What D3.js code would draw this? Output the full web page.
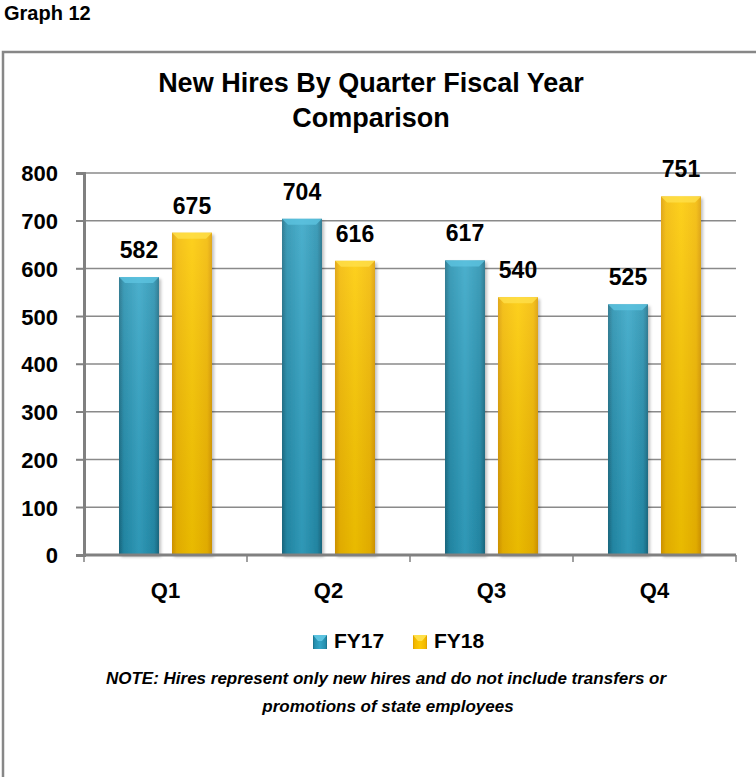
<!DOCTYPE html>
<html>
<head>
<meta charset="utf-8">
<script src="https://cdn.jsdelivr.net/npm/d3@7"></script>
<style>
  body { margin: 0; background: #ffffff; }
  text { font-family: "Liberation Sans", Arial, sans-serif; font-weight: bold; fill: #000; }
</style>
</head>
<body>
<script>
// chart data
var quarters = ["Q1", "Q2", "Q3", "Q4"];
var seriesNames = ["FY17", "FY18"];
var fy17 = [582, 704, 617, 525];
var fy18 = [675, 616, 540, 751];
var yTicks = [0, 100, 200, 300, 400, 500, 600, 700, 800];

window.onload = function(){

    var W = 756, H = 777;

    // plot area
    var left = 84, right = 736, top = 173, bottom = 555;

    var svg = d3.select("body")
        .append("svg")
        .attr("width", W)
        .attr("height", H);

    var defs = svg.append("defs");

    // bar gradients (cylinder-ish look)
    function makeGrad(id, stops) {
        var g = defs.append("linearGradient")
            .attr("id", id)
            .attr("x1", "0").attr("x2", "1").attr("y1", "0").attr("y2", "0");
        stops.forEach(function(s) {
            g.append("stop").attr("offset", s[0]).attr("stop-color", s[1]);
        });
    }
    makeGrad("g17", [["0%", "#1a6d86"], ["12%", "#258fae"], ["50%", "#33a5c6"], ["88%", "#258fae"], ["100%", "#1a6d86"]]);
    makeGrad("g18", [["0%", "#dc9c00"], ["12%", "#f3b900"], ["50%", "#fdca05"], ["88%", "#f3b900"], ["100%", "#dc9c00"]]);

    var shade = defs.append("linearGradient")
        .attr("id", "shade")
        .attr("x1", "0").attr("x2", "0").attr("y1", "0").attr("y2", "1");
    shade.append("stop").attr("offset", "0%").attr("stop-color", "#ffffff").attr("stop-opacity", 0.12);
    shade.append("stop").attr("offset", "100%").attr("stop-color", "#000000").attr("stop-opacity", 0.08);

    var shadow = defs.append("filter").attr("id", "shadow")
        .attr("x", "-20%").attr("y", "-5%").attr("width", "150%").attr("height", "115%");
    shadow.append("feDropShadow")
        .attr("dx", 2).attr("dy", 2).attr("stdDeviation", 1.5)
        .attr("flood-color", "#000").attr("flood-opacity", 0.25);

    // outer frame
    svg.append("rect")
        .attr("x", 3)
        .attr("y", 52)
        .attr("width", 900)
        .attr("height", 900)
        .attr("fill", "none")
        .attr("stroke", "#878787")
        .attr("stroke-width", 2.5);

    svg.append("text")
        .attr("x", 4)
        .attr("y", 20)
        .style("font-size", "20px")
        .text("Graph 12");

    // title
    svg.append("text")
        .attr("x", 371)
        .attr("y", 92)
        .attr("text-anchor", "middle")
        .style("font-size", "27px")
        .text("New Hires By Quarter Fiscal Year");
    svg.append("text")
        .attr("x", 371)
        .attr("y", 127)
        .attr("text-anchor", "middle")
        .style("font-size", "27px")
        .text("Comparison");

    // scales
    var x0 = d3.scaleBand().domain(quarters).range([left, right]);
    var x1 = d3.scaleBand().domain(seriesNames).range([35, 128]).paddingInner(0.245);
    var y = d3.scaleLinear().domain([0, 800]).range([bottom, top]);

    // gridlines
    svg.append("g")
        .selectAll("line")
        .data(yTicks.slice(1))
        .enter().append("line")
        .attr("x1", left - 8)
        .attr("x2", right)
        .attr("y1", function(d) { return y(d); })
        .attr("y2", function(d) { return y(d); })
        .attr("stroke", "#8a8a8a")
        .attr("stroke-width", 1.5);

    // y axis
    var yAxis = svg.append("g")
        .attr("transform", "translate(" + left + ",0)")
        .call(d3.axisLeft(y).tickValues(yTicks).tickSize(8).tickPadding(18));
    yAxis.select(".domain").attr("stroke", "#808080").attr("stroke-width", 3);
    yAxis.selectAll(".tick line").attr("stroke", "#808080").attr("stroke-width", 1.5);
    yAxis.selectAll(".tick text")
        .attr("dy", "0.36em")
        .style("font-family", "'Liberation Sans', Arial, sans-serif")
        .style("font-weight", "bold")
        .style("font-size", "22px")
        .attr("fill", "#000");

    // bars
    var data = quarters.map(function(q, i) {
        return { q: q, vals: [ { s: "FY17", v: fy17[i] }, { s: "FY18", v: fy18[i] } ] };
    });

    var groups = svg.append("g")
        .selectAll("g")
        .data(data)
        .enter().append("g")
        .attr("transform", function(d) { return "translate(" + x0(d.q) + ",0)"; });

    var bars = groups.selectAll("g.bar")
        .data(function(d) { return d.vals; })
        .enter().append("g")
        .attr("class", "bar");

    bars.append("rect")
        .attr("x", function(d) { return x1(d.s); })
        .attr("y", function(d) { return y(d.v); })
        .attr("width", x1.bandwidth())
        .attr("height", function(d) { return y(0) - y(d.v); })
        .attr("fill", function(d) { return d.s == "FY17" ? "url(#g17)" : "url(#g18)"; })
        .attr("filter", "url(#shadow)");

    bars.append("rect")
        .attr("x", function(d) { return x1(d.s); })
        .attr("y", function(d) { return y(d.v); })
        .attr("width", x1.bandwidth())
        .attr("height", function(d) { return y(0) - y(d.v); })
        .attr("fill", "url(#shade)");

    // bevel on top of each bar
    bars.append("path")
        .attr("d", function(d) {
            var bx = x1(d.s), bw = x1.bandwidth(), by = y(d.v), b = 6;
            return "M" + bx + "," + by + "L" + (bx + bw) + "," + by +
                "L" + (bx + bw - b) + "," + (by + b) + "L" + (bx + b) + "," + (by + b) + "Z";
        })
        .attr("fill", function(d) { return d.s == "FY17" ? "#5cc3e0" : "#ffe04a"; })
        .attr("opacity", 0.8);

    // value labels
    bars.append("text")
        .attr("x", function(d) { return x1(d.s) + x1.bandwidth() / 2; })
        .attr("y", function(d) { return y(d.v) - 19; })
        .attr("text-anchor", "middle")
        .style("font-size", "23px")
        .text(function(d) { return d.v; });

    // x axis
    var xAxis = svg.append("g")
        .attr("transform", "translate(0," + bottom + ")");
    xAxis.append("line")
        .attr("x1", left).attr("x2", right)
        .attr("stroke", "#808080").attr("stroke-width", 3);
    xAxis.selectAll("line.tk")
        .data(quarters.concat(["end"]))
        .enter().append("line")
        .attr("class", "tk")
        .attr("x1", function(d, i) { return left + i * x0.bandwidth(); })
        .attr("x2", function(d, i) { return left + i * x0.bandwidth(); })
        .attr("y1", 0).attr("y2", 7)
        .attr("stroke", "#808080").attr("stroke-width", 1.5);
    xAxis.selectAll("text")
        .data(quarters)
        .enter().append("text")
        .attr("x", function(d) { return x0(d) + x0.bandwidth() / 2; })
        .attr("y", 43)
        .attr("text-anchor", "middle")
        .style("font-size", "22px")
        .text(function(d) { return d; });

    // legend
    var legX = [313, 413];
    var legend = svg.append("g")
        .selectAll("g")
        .data(seriesNames)
        .enter().append("g")
        .attr("transform", function(d, i) { return "translate(" + legX[i] + ",635)"; });
    legend.append("rect")
        .attr("width", 14).attr("height", 14)
        .attr("fill", function(d) { return d == "FY17" ? "url(#g17)" : "url(#g18)"; });
    legend.append("path")
        .attr("d", "M0,0L14,0L9,6L5,6Z")
        .attr("fill", function(d) { return d == "FY17" ? "#5cc3e0" : "#ffe04a"; });
    legend.append("text")
        .attr("x", 21)
        .attr("y", 13)
        .style("font-size", "21px")
        .text(function(d) { return d; });

    // note
    svg.append("text")
        .attr("x", 386)
        .attr("y", 684)
        .attr("text-anchor", "middle")
        .style("font-size", "17px")
        .style("font-style", "italic")
        .text("NOTE: Hires represent only new hires and do not include transfers or");
    svg.append("text")
        .attr("x", 388)
        .attr("y", 712)
        .attr("text-anchor", "middle")
        .style("font-size", "17px")
        .style("font-style", "italic")
        .text("promotions of state employees");
}
</script>
</body>
</html>
